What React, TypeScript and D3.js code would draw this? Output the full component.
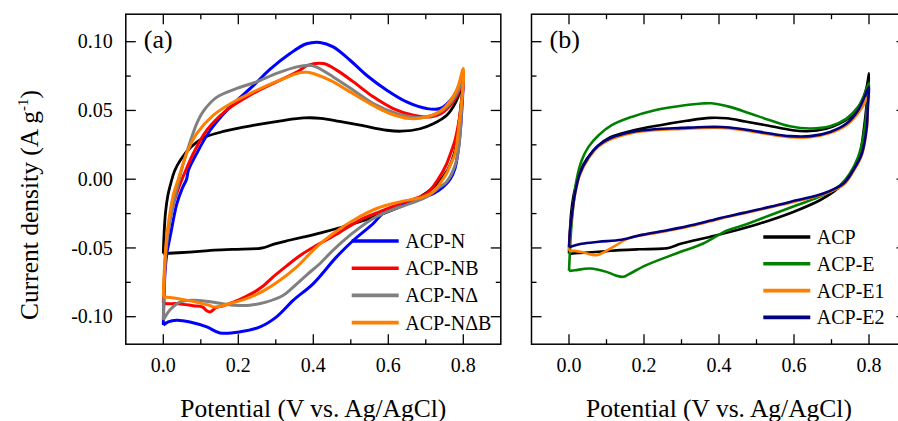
import React from 'react';
import * as d3 from 'd3';

type Pt = [number, number];

// ---------- tick values / labels ----------
const xTickValues = [0, 0.2, 0.4, 0.6, 0.8];
const xTickLabels = ['0.0', '0.2', '0.4', '0.6', '0.8'];
const xMinorValues = [0.1, 0.3, 0.5, 0.7];
const yTickValues = [-0.1, -0.05, 0, 0.05, 0.1];
const yTickLabels = ['-0.10', '-0.05', '0.00', '0.05', '0.10'];
const yMinorValues = [-0.075, -0.025, 0.025, 0.075];

// ---------- CV loops: [potential V, current density A/g] ----------
const acp: Pt[] = [
  [0, -0.054], [0.002, -0.04], [0.006, -0.024], [0.012, -0.012], [0.02, -0.003], [0.03, 0.006],
  [0.047, 0.0145], [0.074, 0.0235], [0.109, 0.0303], [0.163, 0.0349], [0.243, 0.0393], [0.314, 0.0425],
  [0.376, 0.0446], [0.42, 0.0443], [0.47, 0.042], [0.525, 0.0393], [0.596, 0.0356], [0.635, 0.0349],
  [0.685, 0.0367], [0.72, 0.0403], [0.756, 0.0465], [0.78, 0.056], [0.793, 0.066], [0.8, 0.077],
  [0.798, 0.066], [0.794, 0.055], [0.787, 0.038], [0.776, 0.0187], [0.758, 0.0065], [0.732, -0.003],
  [0.705, -0.0092], [0.669, -0.0153], [0.598, -0.0238], [0.509, -0.0322], [0.42, -0.0390], [0.375, -0.042],
  [0.336, -0.0444], [0.3, -0.0468], [0.265, -0.0500], [0.25, -0.0505], [0.185, -0.051], [0.136, -0.0516],
  [0.096, -0.0525], [0.04, -0.0535], [0.01, -0.054], [0, -0.0545],
];

const acpN: Pt[] = [
  [0, -0.106], [0.002, -0.085], [0.005, -0.066], [0.01, -0.053], [0.018, -0.042], [0.036, -0.018],
  [0.05, -0.007], [0.062, 0.0], [0.067, 0.0065], [0.089, 0.0187], [0.125, 0.0356], [0.178, 0.0526],
  [0.24, 0.068], [0.285, 0.08], [0.338, 0.0914], [0.382, 0.0985], [0.418, 0.0995], [0.453, 0.0962],
  [0.498, 0.0865], [0.542, 0.0756], [0.596, 0.0647], [0.649, 0.0562], [0.702, 0.0514], [0.738, 0.0514],
  [0.773, 0.0599], [0.793, 0.0715], [0.8, 0.078],
  [0.799, 0.065], [0.796, 0.05], [0.792, 0.035], [0.786, 0.02], [0.778, 0.008], [0.765, 0.0],
  [0.745, -0.006], [0.72, -0.0105], [0.69, -0.0135], [0.658, -0.017], [0.62, -0.021], [0.587, -0.0245],
  [0.56, -0.0322], [0.507, -0.0444], [0.462, -0.0565], [0.4, -0.0759], [0.347, -0.088], [0.302, -0.1001],
  [0.258, -0.1074], [0.205, -0.111], [0.151, -0.1118], [0.116, -0.1074], [0.071, -0.1038], [0.036, -0.1025],
  [0.013, -0.1038], [0, -0.1062],
];

const acpNB: Pt[] = [
  [0, -0.09], [0.002, -0.075], [0.005, -0.06], [0.009, -0.045], [0.013, -0.036], [0.027, -0.018],
  [0.04, -0.007], [0.05, 0.0], [0.06, 0.0065], [0.08, 0.0187], [0.116, 0.0356], [0.169, 0.0502],
  [0.231, 0.0611], [0.302, 0.0708], [0.36, 0.0785], [0.385, 0.0828], [0.427, 0.0841], [0.462, 0.0793],
  [0.507, 0.0708], [0.56, 0.0599], [0.613, 0.0514], [0.667, 0.0465], [0.711, 0.0453], [0.747, 0.0489],
  [0.782, 0.0599], [0.8, 0.072],
  [0.797, 0.06], [0.79, 0.045], [0.778, 0.0284], [0.765, 0.018], [0.756, 0.0114], [0.733, 0.0],
  [0.702, -0.0104], [0.631, -0.0177], [0.56, -0.0255], [0.533, -0.0285], [0.498, -0.034], [0.471, -0.0385],
  [0.436, -0.044], [0.4, -0.0495], [0.365, -0.0555], [0.329, -0.063], [0.293, -0.071], [0.267, -0.0775],
  [0.24, -0.0825], [0.2, -0.088], [0.16, -0.092], [0.14, -0.0935], [0.125, -0.0965], [0.115, -0.0955],
  [0.105, -0.093], [0.08, -0.092], [0.04, -0.0905], [0.01, -0.0905], [0, -0.09],
];

const acpND: Pt[] = [
  [0, -0.1025], [0.002, -0.08], [0.005, -0.06], [0.01, -0.045], [0.018, -0.03], [0.03, -0.014],
  [0.04, -0.003], [0.05, 0.008], [0.062, 0.019], [0.075, 0.03], [0.09, 0.041], [0.107, 0.0495],
  [0.142, 0.0595], [0.196, 0.066], [0.249, 0.0708], [0.302, 0.0769], [0.356, 0.0817], [0.391, 0.0829],
  [0.409, 0.0815], [0.453, 0.0744], [0.507, 0.0647], [0.56, 0.055], [0.622, 0.0478], [0.676, 0.0449],
  [0.72, 0.0465], [0.756, 0.0526], [0.787, 0.0647], [0.8, 0.0756],
  [0.797, 0.06], [0.791, 0.0308], [0.782, 0.0138], [0.77, 0.0045], [0.755, -0.002], [0.738, -0.0056],
  [0.702, -0.0129], [0.658, -0.0177], [0.596, -0.0238], [0.551, -0.03], [0.498, -0.0407], [0.453, -0.0516],
  [0.418, -0.0613], [0.385, -0.069], [0.347, -0.0783], [0.32, -0.0844], [0.276, -0.0892], [0.231, -0.0916],
  [0.187, -0.0916], [0.125, -0.0892], [0.08, -0.088], [0.045, -0.0892], [0.018, -0.095], [0.005, -0.1],
  [0, -0.1025],
];

const acpNDB: Pt[] = [
  [0, -0.0856], [0.002, -0.07], [0.005, -0.055], [0.009, -0.042], [0.018, -0.024], [0.028, -0.01],
  [0.04, 0.0], [0.062, 0.0187], [0.089, 0.0332], [0.133, 0.0465], [0.187, 0.0562], [0.249, 0.0647],
  [0.311, 0.072], [0.365, 0.0775], [0.385, 0.0778], [0.4, 0.0769], [0.444, 0.072], [0.498, 0.0635],
  [0.551, 0.055], [0.604, 0.0478], [0.658, 0.0441], [0.702, 0.0453], [0.747, 0.0514], [0.782, 0.0647],
  [0.8, 0.0805],
  [0.797, 0.06], [0.79, 0.0429], [0.778, 0.0187], [0.765, 0.01], [0.756, 0.0045], [0.738, -0.0031],
  [0.72, -0.009], [0.693, -0.0129], [0.631, -0.0165], [0.569, -0.0213], [0.507, -0.0298], [0.453, -0.0395],
  [0.409, -0.0492], [0.391, -0.054], [0.356, -0.0638], [0.311, -0.0735], [0.267, -0.0812], [0.222, -0.0868],
  [0.178, -0.0904], [0.138, -0.093], [0.12, -0.0915], [0.071, -0.0885], [0.018, -0.086], [0, -0.0856],
];

const acpE: Pt[] = [
  [0, -0.0667], [0.002, -0.055], [0.005, -0.0395], [0.012, -0.0177], [0.02, -0.0007], [0.034, 0.0138],
  [0.052, 0.0235], [0.079, 0.032], [0.114, 0.0393], [0.167, 0.0453], [0.229, 0.0502], [0.291, 0.0531],
  [0.354, 0.055], [0.38, 0.0552], [0.429, 0.0526], [0.483, 0.0478], [0.536, 0.0429], [0.589, 0.0385],
  [0.643, 0.0369], [0.696, 0.0385], [0.74, 0.0441], [0.771, 0.0526], [0.789, 0.0623], [0.8, 0.07],
  [0.797, 0.06], [0.794, 0.0502], [0.785, 0.0308], [0.771, 0.0162], [0.749, 0.0041], [0.723, -0.0044],
  [0.678, -0.0116], [0.607, -0.0189], [0.536, -0.0262], [0.465, -0.0335], [0.42, -0.0375], [0.358, -0.0468],
  [0.286, -0.054], [0.206, -0.0625], [0.16, -0.069], [0.144, -0.071], [0.123, -0.0698], [0.1, -0.0674],
  [0.056, -0.065], [0.016, -0.0662], [0, -0.0667],
];

const acpE1: Pt[] = [
  [0, -0.052], [0.002, -0.041], [0.007, -0.0285], [0.016, -0.0115], [0.029, 0.003], [0.052, 0.015],
  [0.079, 0.0237], [0.114, 0.0293], [0.167, 0.0335], [0.229, 0.0356], [0.3, 0.0366], [0.363, 0.0373],
  [0.407, 0.0373], [0.429, 0.0369], [0.483, 0.0349], [0.536, 0.0325], [0.589, 0.0306], [0.643, 0.0305],
  [0.696, 0.0335], [0.74, 0.0392], [0.771, 0.048], [0.794, 0.058], [0.8, 0.062],
  [0.797, 0.05], [0.794, 0.036], [0.781, 0.0175], [0.758, 0.0055], [0.732, -0.004], [0.678, -0.011],
  [0.607, -0.016], [0.536, -0.0205], [0.465, -0.025], [0.407, -0.0285], [0.336, -0.0335], [0.265, -0.0375],
  [0.2, -0.0405], [0.163, -0.0425], [0.118, -0.0492], [0.074, -0.0553], [0.043, -0.0536], [0.016, -0.0521],
  [0, -0.0521],
];

const acpE2: Pt[] = [
  [0, -0.0495], [0.002, -0.04], [0.007, -0.0274], [0.016, -0.0104], [0.029, 0.0041], [0.052, 0.0162],
  [0.079, 0.0247], [0.114, 0.0303], [0.167, 0.0344], [0.229, 0.0364], [0.3, 0.0373], [0.363, 0.038],
  [0.407, 0.038], [0.429, 0.0376], [0.483, 0.0356], [0.536, 0.0332], [0.589, 0.0313], [0.643, 0.0313],
  [0.696, 0.0344], [0.74, 0.0405], [0.771, 0.0502], [0.794, 0.0635], [0.8, 0.067],
  [0.797, 0.055], [0.794, 0.038], [0.781, 0.0187], [0.758, 0.0065], [0.732, -0.0031], [0.678, -0.0104],
  [0.607, -0.0153], [0.536, -0.0201], [0.465, -0.0245], [0.407, -0.028], [0.336, -0.033], [0.265, -0.037],
  [0.194, -0.0405], [0.14, -0.044], [0.079, -0.0455], [0.034, -0.047], [0, -0.0495],
];

// ---------- series definitions ----------
const panelANames = ['ACP-N', 'ACP-NB', 'ACP-N\u0394', 'ACP-N\u0394B'];
const panelAColors = ['#0000ff', '#ff0000', '#808080', '#ff8000'];
const panelAData = [acpN, acpNB, acpND, acpNDB];

const panelBNames = ['ACP', 'ACP-E', 'ACP-E1', 'ACP-E2'];
const panelBColors = ['#000000', '#008000', '#ff8000', '#000080'];
const panelBData = [acp, acpE, acpE1, acpE2];

const FONT = "'Liberation Serif', 'Times New Roman', serif";
const TOP = 14.2;
const BOTTOM = 344.2;

type PanelProps = {
  left: number;
  right: number;
  label: string;
  showYLabels: boolean;
  curves: { data: Pt[]; color: string; width: number }[];
  legend: { name: string; color: string }[];
  legendX: number;
  legendY: number;
  legendStep: number;
};

function Panel(p: PanelProps) {
  const x = d3.scaleLinear().domain([-0.1, 0.9]).range([p.left, p.right]);
  const y = d3.scaleLinear().domain([-0.12, 0.12]).range([BOTTOM, TOP]);
  const line = d3
    .line<Pt>()
    .x((d) => x(d[0]))
    .y((d) => y(d[1]))
    .curve(d3.curveCatmullRom.alpha(0.5));
  const major = 10;
  const minor = 5;
  const cx = (p.left + p.right) / 2;
  return (
    <g>
      {p.curves.map((c, i) => (
        <path key={i} d={line(c.data) || ''} fill="none" stroke={c.color} strokeWidth={c.width} strokeLinejoin="round" />
      ))}
      {/* frame */}
      <rect x={p.left} y={TOP} width={p.right - p.left} height={BOTTOM - TOP} fill="none" stroke="#000" strokeWidth={1.5} />
      {/* x ticks */}
      {xTickValues.map((v) => (
        <g key={'xt' + v}>
          <line x1={x(v)} x2={x(v)} y1={BOTTOM} y2={BOTTOM - major} stroke="#000" strokeWidth={1.3} />
          <line x1={x(v)} x2={x(v)} y1={TOP} y2={TOP + major} stroke="#000" strokeWidth={1.3} />
        </g>
      ))}
      {xMinorValues.map((v) => (
        <g key={'xm' + v}>
          <line x1={x(v)} x2={x(v)} y1={BOTTOM} y2={BOTTOM - minor} stroke="#000" strokeWidth={1.3} />
          <line x1={x(v)} x2={x(v)} y1={TOP} y2={TOP + minor} stroke="#000" strokeWidth={1.3} />
        </g>
      ))}
      {yTickValues.map((v) => (
        <g key={'yt' + v}>
          <line x1={p.left} x2={p.left + major} y1={y(v)} y2={y(v)} stroke="#000" strokeWidth={1.3} />
          <line x1={p.right} x2={p.right - major} y1={y(v)} y2={y(v)} stroke="#000" strokeWidth={1.3} />
        </g>
      ))}
      {yMinorValues.map((v) => (
        <g key={'ym' + v}>
          <line x1={p.left} x2={p.left + minor} y1={y(v)} y2={y(v)} stroke="#000" strokeWidth={1.3} />
          <line x1={p.right} x2={p.right - minor} y1={y(v)} y2={y(v)} stroke="#000" strokeWidth={1.3} />
        </g>
      ))}
      {/* tick labels */}
      {xTickValues.map((v, i) => (
        <text key={'xl' + v} x={x(v)} y={372} textAnchor="middle" fontFamily={FONT} fontSize={20}>
          {xTickLabels[i]}
        </text>
      ))}
      {p.showYLabels &&
        yTickValues.map((v, i) => (
          <text key={'yl' + v} x={p.left - 13} y={y(v) + 6.7} textAnchor="end" fontFamily={FONT} fontSize={20}>
            {yTickLabels[i]}
          </text>
        ))}
      {/* x title */}
      <text x={cx} y={416.5} textAnchor="middle" fontFamily={FONT} fontSize={25.5}>
        Potential (V vs. Ag/AgCl)
      </text>
      {/* panel label */}
      <text x={p.left + 18} y={47.5} fontFamily={FONT} fontSize={26}>
        {p.label}
      </text>
      {/* legend */}
      {p.legend.map((e, i) => {
        const ly = p.legendY + i * p.legendStep;
        return (
          <g key={'lg' + i}>
            <line x1={p.legendX} x2={p.legendX + 47} y1={ly} y2={ly} stroke={e.color} strokeWidth={3.6} />
            <text x={p.legendX + 53.5} y={ly + 7} fontFamily={FONT} fontSize={20}>
              {e.name}
            </text>
          </g>
        );
      })}
    </g>
  );
}

export default function App() {
  const aCurves = [
    { data: acp, color: '#000000', width: 2.8 },
    ...panelAData.map((d, i) => ({ data: d, color: panelAColors[i], width: 3 })),
  ];
  const bCurves = panelBData.map((d, i) => ({ data: d, color: panelBColors[i], width: 2.6 }));
  return (
    <svg
      width={898}
      height={421}
      viewBox="0 0 898 421"
      style={{ position: 'absolute', left: 0, top: 0, display: 'block', background: '#fff' }}
    >
      <rect x={0} y={0} width={898} height={421} fill="#fff" />
      <Panel
        left={125.8}
        right={500.8}
        label="(a)"
        showYLabels={true}
        curves={aCurves}
        legend={panelANames.map((n, i) => ({ name: n, color: panelAColors[i] }))}
        legendX={351.7}
        legendY={241}
        legendStep={27.2}
      />
      <Panel
        left={531.5}
        right={906.5}
        label="(b)"
        showYLabels={false}
        curves={bCurves}
        legend={panelBNames.map((n, i) => ({ name: n, color: panelBColors[i] }))}
        legendX={763.3}
        legendY={237}
        legendStep={26.8}
      />
      <text transform="translate(38.3,320) rotate(-90)" fontFamily={FONT} fontSize={25.5}>
        Current density (A g
        <tspan fontSize={15} dy={-10}>-1</tspan>
        <tspan dy={10}>)</tspan>
      </text>
    </svg>
  );
}
